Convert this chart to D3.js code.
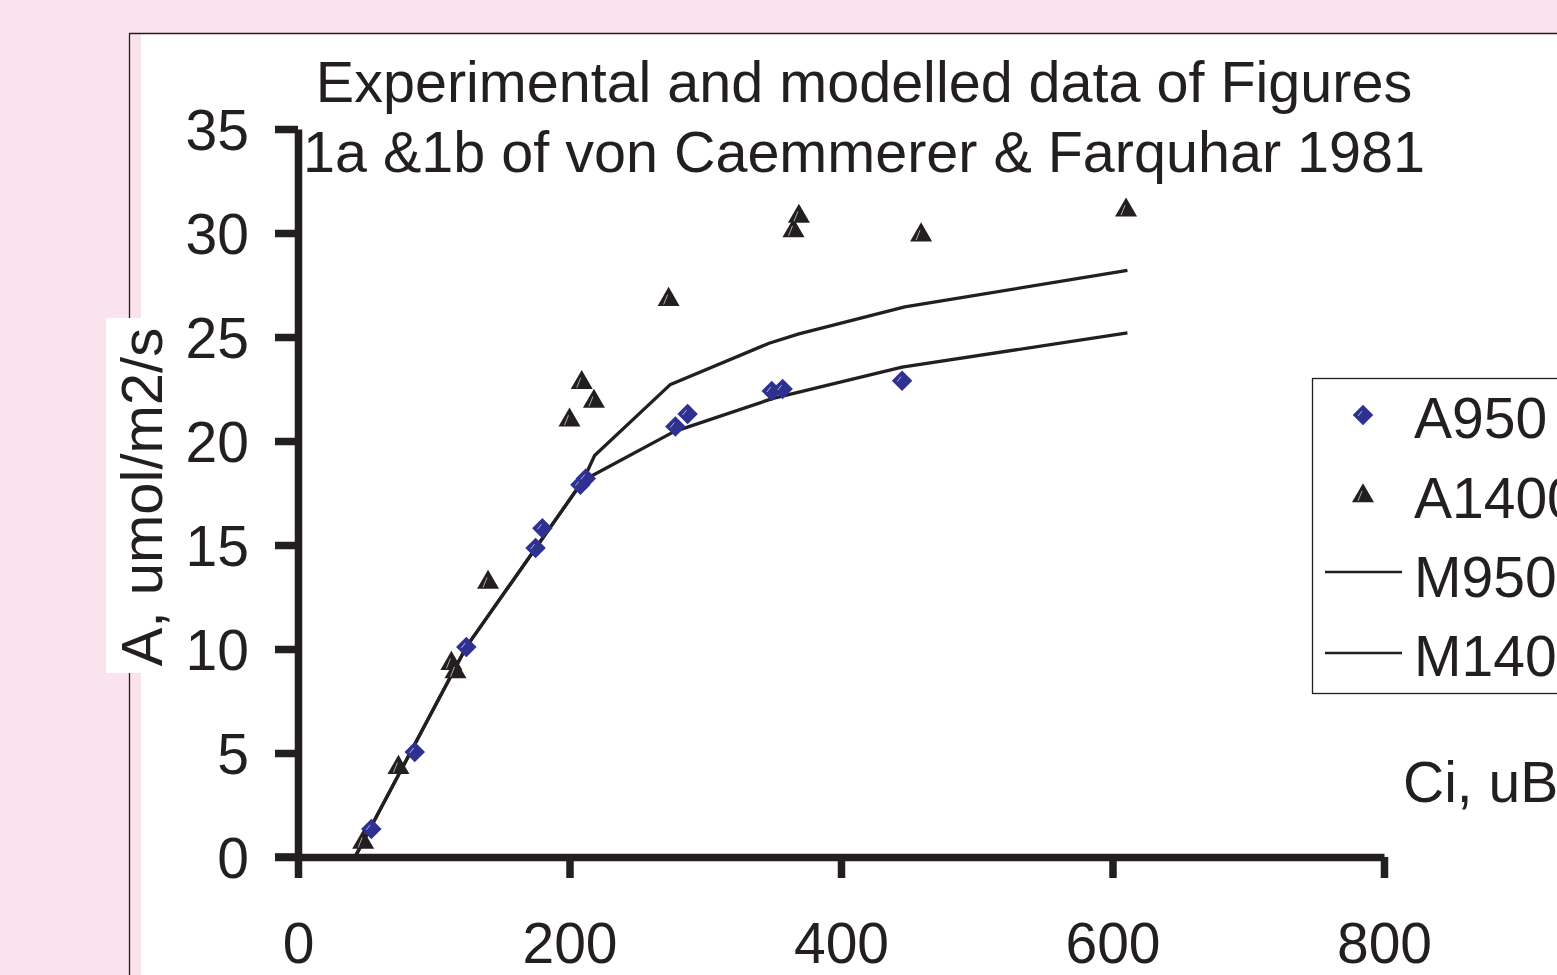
<!DOCTYPE html>
<html>
<head>
<meta charset="utf-8">
<script src="https://cdn.jsdelivr.net/npm/d3@7"></script>
<style>
  html, body { margin: 0; padding: 0; background: #fae3ec; }
  svg { display: block; }
</style>
</head>
<body>
<svg id="chart"></svg>
<script>
// Measured data, Ci (ubar) vs A (umol/m2/s)
const a950Ci = [54, 86, 124, 175, 180, 208, 212, 278, 287, 349, 357, 445];
const a950A = [1.35, 5.05, 10.1, 14.85, 15.8, 17.9, 18.2, 20.7, 21.3, 22.4, 22.5, 22.9];

const a1400Ci = [48, 74, 113, 116, 140, 200, 209, 218, 273, 365, 369, 459, 610];
const a1400A = [0.7, 4.3, 9.3, 8.9, 13.2, 21.0, 22.8, 21.9, 26.8, 30.1, 30.8, 29.9, 31.1];

// Modelled curves
const m950Ci = [42, 124, 210, 277, 350, 445, 611];
const m950A = [0, 10.1, 18.1, 20.45, 22.05, 23.55, 25.2];

const m1400Ci = [42, 124, 210, 218.5, 274, 347, 369, 447, 611];
const m1400A = [0, 10.1, 18.1, 19.3, 22.7, 24.7, 25.15, 26.45, 28.2];

const xTicks = [0, 200, 400, 600, 800];
const yTicks = [0, 5, 10, 15, 20, 25, 30, 35];

const titleLines = [
  "Experimental and modelled data of Figures",
  "1a &1b of von Caemmerer & Farquhar 1981",
];
const legendLabels = ["A950", "A1400", "M950", "M1400"];

const INK = "#231f20";
const BLUE = "#2e3192";
const PINK = "#fae3ec";
const FONT = "'Liberation Sans', Arial, sans-serif";

const W = 1557;
const H = 975;

const svg = d3.select("#chart").attr("width", W).attr("height", H);

// Page background + white chart area with its frame
svg.append("rect").attr("width", W).attr("height", H).attr("fill", PINK);
svg
  .append("rect")
  .attr("x", 141)
  .attr("y", 34)
  .attr("width", W - 141)
  .attr("height", H - 34)
  .attr("fill", "#fff");
svg
  .append("path")
  .attr("d", `M129.5,${H} V33.5 H${W}`)
  .attr("fill", "none")
  .attr("stroke", INK)
  .attr("stroke-width", 1.3);

const x = d3.scaleLinear().domain([0, 800]).range([298, 1384]);
const y = d3.scaleLinear().domain([0, 35]).range([857, 129]);

// Title
svg
  .append("g")
  .selectAll("text")
  .data(titleLines)
  .join("text")
  .attr("x", 864)
  .attr("y", (d, i) => 102 + i * 70)
  .attr("text-anchor", "middle")
  .attr("font-family", FONT)
  .attr("font-size", 57.5)
  .attr("fill", INK)
  .text((d) => d);

// Axes
const styleAxis = (a) => {
  a.select(".domain").attr("stroke", INK).attr("stroke-width", 7.5);
  a.selectAll(".tick line").attr("stroke", INK).attr("stroke-width", 7.5);
  a.selectAll("text")
    .attr("fill", INK)
    .attr("font-family", FONT)
    .attr("font-size", 57);
};

svg
  .append("g")
  .attr("transform", `translate(0,${y(0)})`)
  .call(
    d3.axisBottom(x).tickValues(xTicks).tickSize(21).tickSizeOuter(0).tickFormat(d3.format("d")),
  )
  .call(styleAxis)
  .call((a) => a.selectAll("text").attr("y", 106).attr("dy", 0));

svg
  .append("g")
  .attr("transform", `translate(${x(0)},0)`)
  .call(
    d3.axisLeft(y).tickValues(yTicks).tickSize(23).tickSizeOuter(0).tickFormat(d3.format("d")),
  )
  .call(styleAxis)
  .call((a) => a.selectAll("text").attr("x", -49).attr("dy", "0.36em"));

// extend x axis line to the left under the 0 tick
svg
  .append("line")
  .attr("x1", x(0) - 23)
  .attr("x2", x(0))
  .attr("y1", y(0))
  .attr("y2", y(0))
  .attr("stroke", INK)
  .attr("stroke-width", 7.5);

// Y axis title on its own white box
svg
  .append("rect")
  .attr("x", 106)
  .attr("y", 318)
  .attr("width", 40)
  .attr("height", 355)
  .attr("fill", "#fff");
svg
  .append("text")
  .attr("transform", "translate(162,497) rotate(-90)")
  .attr("text-anchor", "middle")
  .attr("font-family", FONT)
  .attr("font-size", 58)
  .attr("fill", INK)
  .text("A, umol/m2/s");

// X axis title (runs off the right edge)
svg
  .append("text")
  .attr("x", 1403)
  .attr("y", 802)
  .attr("font-family", FONT)
  .attr("font-size", 57)
  .attr("fill", INK)
  .text("Ci, uBar");

// Model lines
const line = d3
  .line()
  .x((d) => x(d[0]))
  .y((d) => y(d[1]));

[
  d3.zip(m950Ci, m950A),
  d3.zip(m1400Ci, m1400A),
].forEach((pts) => {
  svg
    .append("path")
    .attr("d", line(pts))
    .attr("fill", "none")
    .attr("stroke", INK)
    .attr("stroke-width", 3.3)
    .attr("stroke-linejoin", "round");
});

// Marker helpers
const diamondPath = d3.symbol(d3.symbolSquare, 210)();
const trianglePath = d3.symbol(d3.symbolTriangle, 210)();

function drawDiamond(g) {
  g.append("path")
    .attr("d", diamondPath)
    .attr("transform", "rotate(45)")
    .attr("fill", BLUE);
  g.append("line")
    .attr("x1", -5)
    .attr("y1", 1)
    .attr("x2", -1)
    .attr("y2", -4)
    .attr("stroke", "#fff")
    .attr("stroke-width", 0.8)
    .attr("opacity", 0.8);
}

function drawTriangle(g) {
  g.append("path").attr("d", trianglePath).attr("fill", INK);
  g.append("line")
    .attr("x1", -5)
    .attr("y1", 5)
    .attr("x2", -1)
    .attr("y2", -5)
    .attr("stroke", "#fff")
    .attr("stroke-width", 0.8)
    .attr("opacity", 0.8);
}

// A950 points
svg
  .append("g")
  .selectAll("g")
  .data(d3.zip(a950Ci, a950A))
  .join("g")
  .attr("transform", (d) => `translate(${x(d[0])},${y(d[1])})`)
  .each(function () {
    drawDiamond(d3.select(this));
  });

// A1400 points
svg
  .append("g")
  .selectAll("g")
  .data(d3.zip(a1400Ci, a1400A))
  .join("g")
  .attr("transform", (d) => `translate(${x(d[0])},${y(d[1])})`)
  .each(function () {
    drawTriangle(d3.select(this));
  });

// Legend (cut off by the right edge, as in the source figure)
const legend = svg.append("g");
legend
  .append("rect")
  .attr("x", 1312.5)
  .attr("y", 378.5)
  .attr("width", 400)
  .attr("height", 315)
  .attr("fill", "#fff")
  .attr("stroke", INK)
  .attr("stroke-width", 1.3);

const rowY = [438, 518, 597, 676];
legendLabels.forEach((lab, i) => {
  legend
    .append("text")
    .attr("x", 1414)
    .attr("y", rowY[i])
    .attr("font-family", FONT)
    .attr("font-size", 57)
    .attr("fill", INK)
    .text(lab);
  const my = rowY[i] - 22;
  if (i === 0) {
    drawDiamond(legend.append("g").attr("transform", `translate(1363,${my - 1})`));
  } else if (i === 1) {
    drawTriangle(legend.append("g").attr("transform", `translate(1363,${my})`));
  } else {
    legend
      .append("line")
      .attr("x1", 1325)
      .attr("x2", 1402)
      .attr("y1", my + (i === 2 ? -3 : -1))
      .attr("y2", my + (i === 2 ? -3 : -1))
      .attr("stroke", INK)
      .attr("stroke-width", 2.5);
  }
});
</script>
</body>
</html>
